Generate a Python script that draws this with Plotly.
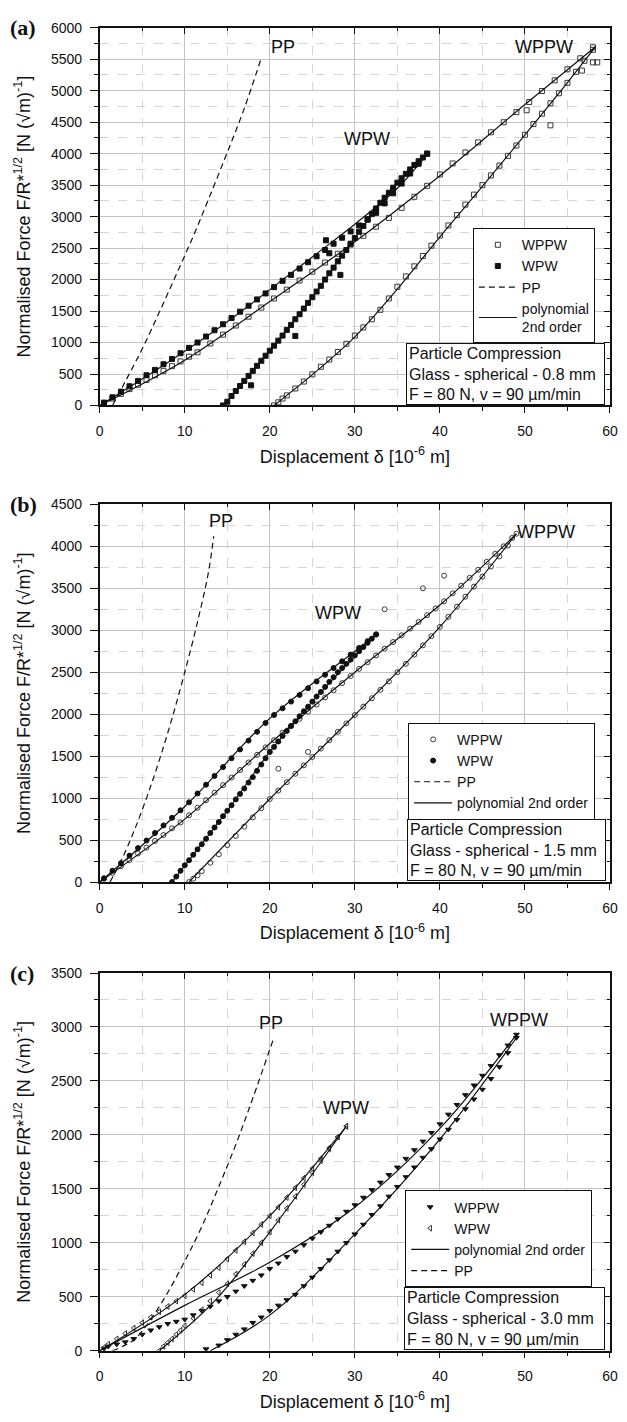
import plotly.graph_objects as go

# ---------------- Panel (a): 0.8 mm ----------------
a_wppw_load_x = [0.5,1.5,2.5,3.5,4.5,5.5,6.5,7.5,8.5,9.5,10.5,11.5,13,14.5,16,17.5,19,20.5,22,23.5,25,26.5,28,29.5,31,32.5,34,35.5,37,38.5,40,41.5,43,44.5,46,47.5,49,50.5,52,53.5,55,56.5,58]
a_wppw_load_y = [40,110,185,260,330,405,480,550,625,700,775,845,985,1125,1270,1410,1555,1700,1840,1985,2125,2270,2410,2555,2695,2840,2980,3140,3315,3490,3670,3845,4020,4180,4340,4500,4660,4820,4995,5165,5340,5515,5690]
a_wppw_unload_x = [20.5,21,21.5,22,23,24,25,26,27,28,29,30,31,32,33,34,35,36,37,38,39,40,41,42,43,44,45,46,47,48,49,50,51,52,53,54,55,56,57,58]
a_wppw_unload_y = [0,50,110,160,270,380,495,615,730,850,980,1110,1240,1370,1520,1700,1885,2050,2210,2375,2540,2700,2860,3025,3190,3350,3500,3655,3810,3965,4130,4300,4470,4635,4800,4960,5125,5300,5475,5650]
a_wppw_out_x = [50.2,53.0,56.7,58.0,58.5]
a_wppw_out_y = [4690,4450,5320,5450,5450]
a_wpw_load_x = [0.5,1.5,2.5,3.5,4.5,5.5,6.5,7.5,8.5,9.5,10.5,11.5,12.5,13.5,14.5,15.5,16.5,17.5,18.5,19.5,20.5,21.5,22.5,23.5,24.5,25.5,26.5,27.5,28.5,29.5,30.5,31.5,32.5,33.5,34.5,35.5,36.5,37.5,38.5]
a_wpw_load_y = [45,130,220,305,390,480,565,655,740,830,915,1000,1095,1195,1290,1390,1490,1585,1685,1780,1880,1980,2075,2175,2275,2370,2470,2570,2665,2765,2860,2960,3060,3210,3370,3525,3685,3840,4000]
a_wpw_unload_x = [14.5,15,15.5,16,16.5,17,17.5,18,18.5,19,19.5,20,20.5,21,21.5,22,22.5,23,23.5,24,24.5,25,25.5,26,26.5,27,27.5,28,28.5,29,29.5,30,30.5,31,31.5,32,32.5,33,33.5,34,34.5,35,35.5,36,36.5,37,37.5,38,38.5]
a_wpw_unload_y = [0,60,150,230,310,390,470,550,630,710,790,870,950,1030,1110,1200,1280,1370,1450,1540,1630,1720,1810,1900,2000,2100,2190,2290,2380,2470,2570,2660,2760,2850,2950,3040,3130,3220,3300,3380,3460,3540,3610,3680,3750,3820,3880,3940,4000]
a_wpw_out_x = [26.6,27.0,28.3,23.0,17.8]
a_wpw_out_y = [2624,2418,2074,1105,320]
a_fit_x = [[0,10,20,30,40,50,58.3],[20.5,25,30,35,40,45,50,55,58.3],[0,5,10,15,20,25,30,35,38.5],[14.5,20,25,30,35,38.5]]
a_fit_y = [[0,720,1650,2600,3650,4780,5700],[0,490,1090,1850,2680,3480,4300,5130,5700],[0,420,860,1330,1840,2360,2880,3450,3990],[0,870,1720,2660,3540,4000]]
a_pp_x = [1.5,3,5,7,9,11,12.8,15,17,18.9]
a_pp_y = [0,380,900,1480,2080,2690,3280,4020,4720,5480]

# ---------------- Panel (b): 1.5 mm ----------------
b_wppw_load_x = [0.5,1.5,2.5,3.5,4.5,5.5,6.5,7.5,8.5,9.5,10.5,11.5,12.5,13.5,14.5,15.5,16.5,17.5,18.5,19.5,20.5,21.5,22.5,23.5,24.5,25.5,26.5,27.5,28.5,29.5,30.5,31.5,32.5,33.5,34.5,35.5,36.5,37.5,38.5,39.5,40.5,41.5,42.5,43.5,44.5,45.5,46.5,47.5,48.5]
b_wppw_load_y = [40,110,190,260,340,410,490,560,640,710,795,885,975,1065,1155,1245,1335,1425,1515,1605,1690,1780,1860,1945,2030,2115,2200,2285,2370,2455,2540,2620,2700,2780,2860,2940,3020,3100,3180,3260,3345,3440,3530,3625,3720,3815,3910,4000,4100]
b_wppw_unload_x = [10.5,11,11.5,12,13,14,15,16,17,18,19,20,21,22,23,24,25,26,27,28,29,30,31,32,33,34,35,36,37,38,39,40,41,42,43,44,45,46,47,48,49]
b_wppw_unload_y = [0,40,80,130,230,330,440,550,660,770,880,990,1090,1190,1290,1390,1490,1590,1690,1790,1890,1990,2090,2190,2290,2390,2500,2600,2710,2820,2930,3040,3160,3280,3400,3520,3640,3760,3880,4010,4150]
b_wppw_out_x = [33.5,38.0,40.5,24.5,21.0]
b_wppw_out_y = [3250,3500,3650,1550,1350]
b_wpw_load_x = [0.5,1.5,2.5,3.5,4.5,5.5,6.5,7.5,8.5,9.5,10.5,11.5,12.5,13.5,14.5,15.5,16.5,17.5,18.5,19.5,20.5,21.5,22.5,23.5,24.5,25.5,26.5,27.5,28.5,29.5,30.5,31.5,32.5]
b_wpw_load_y = [45,135,225,315,405,495,585,675,765,855,950,1055,1160,1265,1370,1475,1580,1685,1790,1895,1990,2070,2150,2230,2310,2390,2470,2550,2630,2710,2790,2870,2950]
b_wpw_unload_x = [8.5,9,9.5,10,10.5,11,11.5,12,12.5,13,13.5,14,14.5,15,15.5,16,16.5,17,17.5,18,18.5,19,19.5,20,20.5,21,21.5,22,22.5,23,23.5,24,24.5,25,25.5,26,26.5,27,27.5,28,28.5,29,29.5,30,30.5,31,31.5,32,32.5]
b_wpw_unload_y = [0,65,135,200,260,325,390,450,515,585,650,715,785,850,915,985,1050,1115,1185,1250,1325,1400,1475,1550,1610,1675,1740,1800,1860,1915,1975,2035,2090,2150,2210,2265,2325,2385,2440,2500,2550,2600,2650,2700,2750,2800,2850,2900,2950]
b_fit_x = [[0,10,20,30,40,49],[10.5,20,30,40,49],[0,10,20,30,32.5],[8.5,15,20,25,32.5]]
b_fit_y = [[0,750,1650,2500,3300,4150],[0,990,1990,3040,4150],[0,900,1950,2750,2950],[0,850,1550,2150,2950]]
b_pp_x = [1.2,2.5,4,5.5,7,8.5,10,11.5,12.8,13.4]
b_pp_y = [0,250,600,1000,1450,1950,2500,3100,3700,4120]

# ---------------- Panel (c): 3.0 mm ----------------
c_wppw_load_x = [0.5,1,2,3,4,5,6,7,8,9,10,11,12,13,14,15,16,17,18,19,20,21,22,23,24,25,26,27,28,29,30,31,32,33,34,35,36,37,38,39,40,41,42,43,44,45,46,47,48,49]
c_wppw_load_y = [20,40,60,80,110,150,190,220,250,270,290,330,370,410,460,500,550,600,650,700,760,810,870,920,980,1040,1100,1160,1220,1290,1350,1420,1490,1560,1630,1700,1780,1860,1940,2020,2100,2190,2280,2370,2460,2550,2640,2740,2830,2930]
c_wppw_unload_x = [12.5,14,15,16,17,18,19,20,21,22,23,24,25,26,27,28,29,30,31,32,33,34,35,36,37,38,39,40,41,42,43,44,45,46,47,48,49]
c_wppw_unload_y = [15,50,100,150,200,260,310,370,420,470,520,600,680,760,840,920,1000,1080,1170,1260,1340,1430,1520,1610,1700,1790,1870,1960,2050,2140,2240,2330,2420,2520,2630,2760,2900]
c_wpw_load_x = [0.5,1,2,3,4,5,6,7,8,9,10,11,12,13,14,15,16,17,18,19,20,21,22,23,24,25,26,27,28,29]
c_wpw_load_y = [30,60,110,160,210,260,310,360,410,460,510,570,630,700,770,850,930,1010,1090,1170,1250,1330,1420,1510,1600,1690,1780,1880,1980,2080]
c_wpw_unload_x = [7,7.5,8,8.5,9,9.5,10,11,12,13,14,15,16,17,18,19,20,21,22,23,24,25,26,27,28,29]
c_wpw_unload_y = [0,40,75,110,150,190,230,300,380,460,540,620,710,800,900,1000,1100,1210,1320,1430,1540,1650,1760,1870,1980,2080]
c_fit_x = [[0,10,20,30,40,49],[13,20,30,40,49],[0,10,20,29],[7,13.5,20,29]]
c_fit_y = [[0,420,820,1330,2060,2930],[0,330,1080,1960,2900],[0,520,1250,2080],[0,460,1100,2080]]
c_pp_x = [1.5,4,6,8,10,12,14,16,18,20.5]
c_pp_y = [0,100,290,540,830,1150,1520,1910,2340,2906]

# curve labels (text, x, y)
a_labels = [("PP", 21.5, 5690), ("WPW", 31.4, 4230), ("WPPW", 52.2, 5690)]
b_labels = [("PP", 14.3, 4300), ("WPW", 28.0, 3200), ("WPPW", 52.5, 4170)]
c_labels = [("PP", 20.1, 3040), ("WPW", 28.9, 2253), ("WPPW", 49.3, 3060)]

W, H = 627, 1422
X0, X1 = 97.6, 617.8
panels = [
    dict(top=20, bot=402, ymax=6000, tag="(a)", size="0.8 mm", legend="legend",
         legend_pos=(478, 339), text_box=(411, 612, 339, 401)),
    dict(top=502, bot=884, ymax=4500, tag="(b)", size="1.5 mm", legend="legend2",
         legend_pos=(412, 821), text_box=(412, 613, 821, 883)),
    dict(top=976, bot=1358, ymax=3500, tag="(c)", size="3.0 mm", legend="legend3",
         legend_pos=(409, 1294), text_box=(409, 612, 1294, 1357)),
]


def px(x):
    return x / W


def py(y):
    return 1 - y / H


fig = go.Figure()
FONT = "Liberation Sans, Arial, sans-serif"
BLK = "#111111"


def mk(x, y, sym, size, name, leg, color=BLK):
    return go.Scatter(x=x, y=y, mode="markers", name=name, legend=leg,
                      marker=dict(symbol=sym, size=size, color=color, line=dict(width=1, color=color)))


def line(x, y, name, leg, dash="solid", show=True):
    return go.Scatter(x=x, y=y, mode="lines", name=name, legend=leg, showlegend=show,
                      line=dict(color=BLK, width=1.2, dash=dash, shape="spline"))


data = [
    dict(traces=[
            ("WPPW", a_wppw_load_x + a_wppw_unload_x + a_wppw_out_x, a_wppw_load_y + a_wppw_unload_y + a_wppw_out_y, "square-open", 5, "#3a3a3a"),
            ("WPW", a_wpw_load_x + a_wpw_unload_x + a_wpw_out_x, a_wpw_load_y + a_wpw_unload_y + a_wpw_out_y, "square", 5, BLK)],
         fits=(a_fit_x, a_fit_y), pp=(a_pp_x, a_pp_y), order=["m", "pp", "fit"],
         fitname="polynomial<br>2nd order", labels=a_labels),
    dict(traces=[
            ("WPPW", b_wppw_load_x + b_wppw_unload_x + b_wppw_out_x, b_wppw_load_y + b_wppw_unload_y + b_wppw_out_y, "circle-open", 5, "#3a3a3a"),
            ("WPW", b_wpw_load_x + b_wpw_unload_x, b_wpw_load_y + b_wpw_unload_y, "circle", 5, BLK)],
         fits=(b_fit_x, b_fit_y), pp=(b_pp_x, b_pp_y), order=["m", "pp", "fit"],
         fitname="polynomial 2nd order", labels=b_labels),
    dict(traces=[
            ("WPPW", c_wppw_load_x + c_wppw_unload_x, c_wppw_load_y + c_wppw_unload_y, "triangle-down", 5, BLK),
            ("WPW", c_wpw_load_x + c_wpw_unload_x, c_wpw_load_y + c_wpw_unload_y, "triangle-left-open", 5, "#333333")],
         fits=(c_fit_x, c_fit_y), pp=(c_pp_x, c_pp_y), order=["m", "fit", "pp"],
         fitname="polynomial 2nd order", labels=c_labels),
]

layout = dict(width=W, height=H, margin=dict(l=0, r=0, t=0, b=0),
              paper_bgcolor="white", plot_bgcolor="white",
              font=dict(family=FONT, color=BLK, size=14), showlegend=True)
annotations = []

for i, (p, d) in enumerate(zip(panels, data)):
    n = i + 1
    xs = "" if n == 1 else str(n)
    xa, ya = "x" + xs, "y" + xs
    ox, oy = "x" + str(n + 3), "y" + str(n + 3)
    leg = p["legend"]
    for kind in d["order"]:
        if kind == "m":
            for (nm, xx, yy, sym, sz, col) in d["traces"]:
                tr = mk(xx, yy, sym, sz, nm, leg, color=col)
                tr.update(xaxis=xa, yaxis=ya)
                fig.add_trace(tr)
        elif kind == "pp":
            tr = line(d["pp"][0], d["pp"][1], "PP", leg, dash="6px,4px")
            tr.update(xaxis=xa, yaxis=ya)
            fig.add_trace(tr)
        else:
            fx, fy = d["fits"]
            for k in range(len(fx)):
                tr = line(fx[k], fy[k], d["fitname"], leg, show=(k == 0))
                tr.update(xaxis=xa, yaxis=ya)
                fig.add_trace(tr)
    # empty trace that carries the mirrored (top / right) axes
    fig.add_trace(go.Scatter(x=[None], y=[None], xaxis=ox, yaxis=oy, showlegend=False, hoverinfo="skip"))

    ydom = [py(p["bot"]), py(p["top"])]
    xdom = [px(X0), px(X1)]
    common = dict(showgrid=True, gridcolor="#c4c4c4", gridwidth=1, zeroline=False,
                  showline=True, linecolor=BLK, linewidth=1.5, ticks="outside",
                  tickcolor=BLK, tickwidth=1, tickfont=dict(size=14, family=FONT))
    layout["xaxis" + xs] = dict(common, domain=xdom, anchor=ya, range=[0, 60], dtick=10, tick0=0,
                                ticklen=6, ticklabelstandoff=6,
                                minor=dict(dtick=5, tick0=0, ticks="outside", ticklen=4, tickcolor=BLK,
                                           showgrid=True, gridcolor="#d6d6d6", griddash="dash"),
                                title=dict(text="Displacement \u03b4 [10<sup>-6</sup> m]",
                                           font=dict(size=18, family=FONT), standoff=12))
    layout["yaxis" + xs] = dict(common, domain=ydom, anchor=xa, range=[0, p["ymax"]], dtick=500, tick0=0,
                                ticklen=8, ticklabelstandoff=5,
                                minor=dict(dtick=250, tick0=0, ticks="outside", ticklen=4, tickcolor=BLK,
                                           showgrid=True, gridcolor="#d6d6d6", griddash="dash"),
                                title=dict(text="Normalised Force F/R*<sup>1/2</sup> [N (\u221am)<sup>-1</sup>]",
                                           font=dict(size=18, family=FONT), standoff=16))
    layout["xaxis" + str(n + 3)] = dict(overlaying=xa, side="top", anchor=ya, range=[0, 60], dtick=10,
                                        tick0=0, ticks="inside", ticklen=6, tickcolor=BLK,
                                        showticklabels=False, showgrid=False, zeroline=False,
                                        showline=True, linecolor=BLK, linewidth=1.5,
                                        minor=dict(dtick=5, tick0=0, ticks="inside", ticklen=3, tickcolor=BLK))
    layout["yaxis" + str(n + 3)] = dict(overlaying=ya, side="right", anchor=xa, range=[0, p["ymax"]],
                                        dtick=500, tick0=0, ticks="inside", ticklen=6, tickcolor=BLK,
                                        showticklabels=False, showgrid=False, zeroline=False,
                                        showline=True, linecolor=BLK, linewidth=1.5,
                                        minor=dict(dtick=250, tick0=0, ticks="inside", ticklen=3, tickcolor=BLK))
    lx, ly = p["legend_pos"]
    layout[leg] = dict(x=px(lx), y=py(ly), xanchor="left", yanchor="bottom", bgcolor="white",
                       bordercolor=BLK, borderwidth=1, font=dict(size=14, family=FONT, color=BLK),
                       tracegroupgap=0, itemwidth=38)
    # information box
    x0b, x1b, y0b, y1b = p["text_box"]
    annotations.append(dict(xref="paper", yref="paper", x=px((x0b + x1b) / 2), y=py((y0b + y1b) / 2),
                            xanchor="center", yanchor="middle", showarrow=False, align="left",
                            width=x1b - x0b - 8, height=y1b - y0b - 6, bgcolor="white",
                            bordercolor=BLK, borderwidth=1, borderpad=2,
                            text="Particle Compression<br>Glass - spherical - " + p["size"] + "<br>F = 80 N, v = 90 \u00b5m/min",
                            font=dict(size=16, family=FONT, color=BLK)))
    # panel tag
    annotations.append(dict(xref="paper", yref="paper", x=px(4), y=py(p["top"]), xanchor="left",
                            yanchor="middle", showarrow=False, text="<b>" + p["tag"] + "</b>",
                            font=dict(size=22, family="Liberation Serif, Times New Roman, serif", color=BLK)))
    for (t, lxv, lyv) in d["labels"]:
        annotations.append(dict(xref=xa, yref=ya, x=lxv, y=lyv, showarrow=False, text=t,
                                xanchor="center", yanchor="middle",
                                font=dict(size=18, family=FONT, color=BLK)))

layout["annotations"] = annotations
fig.update_layout(**layout)
fig.write_html("out.html")
